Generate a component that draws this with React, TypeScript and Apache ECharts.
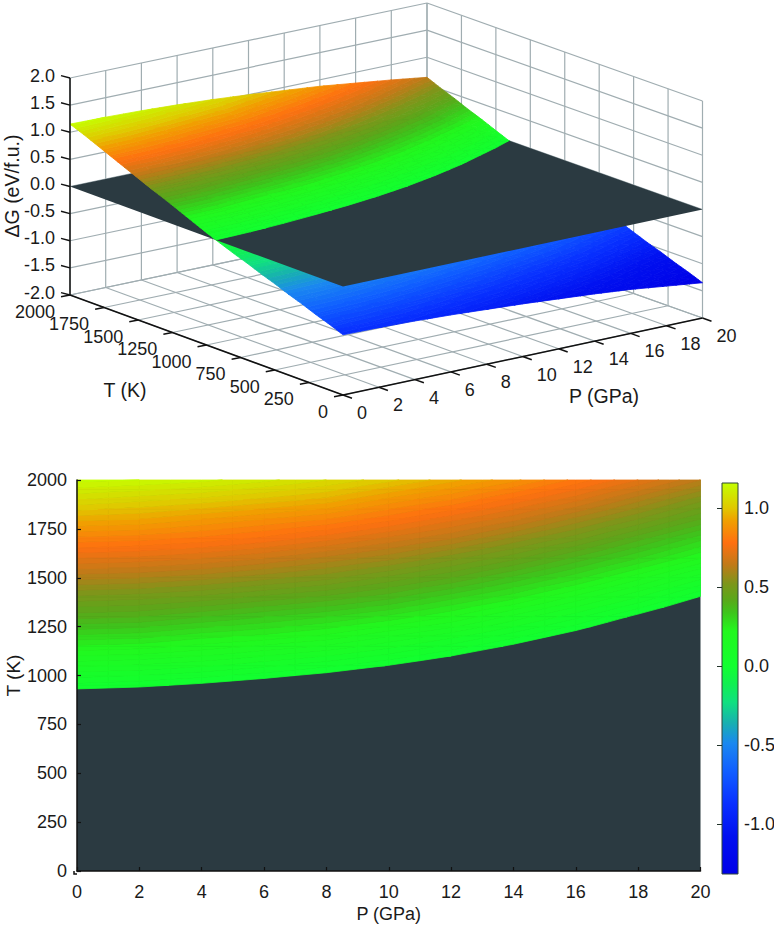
import { useEffect, useRef } from 'react';
import * as echarts from 'echarts';

// ticks shared by both panels
const pressureTicks = [0, 2, 4, 6, 8, 10, 12, 14, 16, 18, 20];
const temperatureTicks = [0, 250, 500, 750, 1000, 1250, 1500, 1750, 2000];
const gibbsTicks = [-2, -1.5, -1, -0.5, 0, 0.5, 1, 1.5, 2];
const colorbarTicks = [-1, -0.5, 0, 0.5, 1];

// table axes of the dG surface
const tablePressure = [0, 2, 4, 6, 8, 10, 12, 14, 16, 18, 20];
const tableTemperature = [
  0, 100, 200, 300, 400, 500, 600, 700, 800, 900, 1000,
  1100, 1200, 1300, 1400, 1500, 1600, 1700, 1800, 1900, 2000,
];

// dG (eV/f.u.), one list per pressure, T going up
const deltaG = [
  [-0.89, -0.79, -0.70, -0.60, -0.51, -0.41, -0.32, -0.22, -0.13, -0.032, 0.07, 0.18, 0.29, 0.40, 0.50, 0.61, 0.72, 0.83, 0.94, 1.05, 1.15],
  [-0.90, -0.80, -0.71, -0.61, -0.52, -0.42, -0.33, -0.23, -0.14, -0.042, 0.06, 0.17, 0.28, 0.39, 0.49, 0.60, 0.71, 0.82, 0.93, 1.03, 1.14],
  [-0.92, -0.82, -0.73, -0.63, -0.54, -0.44, -0.35, -0.25, -0.16, -0.06, 0.04, 0.15, 0.25, 0.36, 0.47, 0.58, 0.69, 0.80, 0.90, 1.01, 1.12],
  [-0.95, -0.85, -0.76, -0.66, -0.57, -0.47, -0.37, -0.28, -0.18, -0.085, 0.015, 0.12, 0.23, 0.33, 0.44, 0.55, 0.66, 0.77, 0.87, 0.98, 1.09],
  [-0.99, -0.89, -0.79, -0.70, -0.60, -0.50, -0.41, -0.31, -0.21, -0.11, -0.015, 0.09, 0.20, 0.30, 0.41, 0.52, 0.62, 0.73, 0.84, 0.95, 1.05],
  [-1.03, -0.93, -0.83, -0.74, -0.64, -0.54, -0.44, -0.35, -0.25, -0.15, -0.055, 0.05, 0.15, 0.26, 0.37, 0.47, 0.58, 0.68, 0.79, 0.89, 1.00],
  [-1.08, -0.98, -0.88, -0.79, -0.69, -0.59, -0.49, -0.39, -0.29, -0.20, -0.10, 0.00, 0.10, 0.21, 0.31, 0.42, 0.52, 0.63, 0.73, 0.84, 0.94],
  [-1.13, -1.03, -0.94, -0.84, -0.74, -0.65, -0.55, -0.45, -0.35, -0.26, -0.16, -0.06, 0.04, 0.14, 0.25, 0.35, 0.46, 0.56, 0.67, 0.77, 0.88],
  [-1.19, -1.09, -1.00, -0.90, -0.80, -0.71, -0.61, -0.51, -0.42, -0.32, -0.23, -0.13, -0.03, 0.07, 0.17, 0.28, 0.38, 0.49, 0.59, 0.70, 0.80],
  [-1.27, -1.17, -1.08, -0.98, -0.88, -0.79, -0.69, -0.59, -0.50, -0.40, -0.30, -0.21, -0.11, -0.015, 0.09, 0.19, 0.30, 0.40, 0.51, 0.61, 0.72],
  [-1.35, -1.25, -1.16, -1.06, -0.97, -0.87, -0.77, -0.68, -0.58, -0.49, -0.39, -0.29, -0.20, -0.10, -0.005, 0.10, 0.21, 0.31, 0.42, 0.52, 0.63],
];

// colour scale
const scaleMin = -1.316;
const scaleMax = 1.158;
const scaleValues = [-1.316, -1.08, -0.87, -0.66, -0.49, -0.36, -0.23, -0.11, 0, 0.22, 0.34, 0.42, 0.52, 0.64, 0.78, 0.92, 1.0, 1.158];
const scaleColors = [
  '#0000e8', '#0010f0', '#0830ff', '#1060ff', '#1a88f0', '#18b0b0', '#10e080', '#10f050',
  '#12ff30', '#22f81e', '#3ec41c', '#5aa81a', '#7c961a', '#c07a18', '#ff7010', '#f0a000', '#e0c800', '#c4ff00',
];

const DARK = '#2b3a41';
const INK = '#1a1a1a';
const WALL = '#a0adb1';
const FONT = '"Liberation Sans", Arial, sans-serif';
const SUB_P = 2;
const SUB_T = 2;
const BAND = 0.03;

function hexToRgb(hex: string) {
  return [1, 3, 5].map((i) => parseInt(hex.slice(i, i + 2), 16));
}

function colorOf(v: number) {
  let k = 0;
  while (k < scaleValues.length - 2 && v > scaleValues[k + 1]) k++;
  const f = Math.max(0, Math.min(1, (v - scaleValues[k]) / (scaleValues[k + 1] - scaleValues[k])));
  const a = hexToRgb(scaleColors[k]);
  const b = hexToRgb(scaleColors[k + 1]);
  return `rgb(${a.map((c, i) => Math.round(c + (b[i] - c) * f)).join(',')})`;
}

// box corners of the 3d panel, in the hidden grid's units
const cornerFront = [343, 395];
const cornerRight = [702.5, 318];
const cornerLeft = [70, 295];
const cornerBack = [427, 220];
const boxHeight = 217;

function project(p: number, t: number, g: number) {
  const a = p / 20;
  const b = t / 2000;
  const mix = (i: number) =>
    (1 - a) * (1 - b) * cornerFront[i] + a * (1 - b) * cornerRight[i] +
    (1 - a) * b * cornerLeft[i] + a * b * cornerBack[i];
  return [mix(0), mix(1) - ((g + 2) / 4) * boxHeight];
}

type Corner = { p: number; t: number; g: number };

// keep the part of a small quad above (sign 1) or below (sign -1) a level
function clipLevel(poly: Corner[], level: number, sign: number) {
  const out: Corner[] = [];
  poly.forEach((cur, i) => {
    const next = poly[(i + 1) % poly.length];
    const inCur = (cur.g - level) * sign >= 0;
    const inNext = (next.g - level) * sign >= 0;
    if (inCur) out.push(cur);
    if (inCur !== inNext) {
      const f = (cur.g - level) / (cur.g - next.g);
      out.push({ p: cur.p + (next.p - cur.p) * f, t: cur.t + (next.t - cur.t) * f, g: level });
    }
  });
  return out;
}

function subQuads(i: number, j: number) {
  const p0 = tablePressure[i];
  const p1 = tablePressure[i + 1];
  const t0 = tableTemperature[j];
  const t1 = tableTemperature[j + 1];
  const at = (fa: number, fb: number): Corner => ({
    p: p0 + (p1 - p0) * fa,
    t: t0 + (t1 - t0) * fb,
    g:
      (1 - fa) * (1 - fb) * deltaG[i][j] + fa * (1 - fb) * deltaG[i + 1][j] +
      (1 - fa) * fb * deltaG[i][j + 1] + fa * fb * deltaG[i + 1][j + 1],
  });
  const quads: Corner[][] = [];
  for (let b = SUB_T - 1; b >= 0; b--) {
    for (let a = 0; a < SUB_P; a++) {
      quads.push([
        at(a / SUB_P, b / SUB_T),
        at((a + 1) / SUB_P, b / SUB_T),
        at((a + 1) / SUB_P, (b + 1) / SUB_T),
        at(a / SUB_P, (b + 1) / SUB_T),
      ]);
    }
  }
  return quads;
}

// slice a quad into iso-bands, like the filled contours of the original
function bandsOf(quad: Corner[]) {
  const values = quad.map((c) => c.g);
  const first = Math.floor(Math.min(...values) / BAND);
  const last = Math.ceil(Math.max(...values) / BAND);
  const parts: { low: number; poly: Corner[] }[] = [];
  for (let k = first; k < last; k++) {
    const low = k * BAND;
    const poly = clipLevel(clipLevel(quad, low, 1), low + BAND, -1);
    if (poly.length >= 3) parts.push({ low, poly });
  }
  return parts;
}

const cells: number[][] = [];
for (let j = tableTemperature.length - 2; j >= 0; j--) {
  for (let i = 0; i < tablePressure.length - 1; i++) cells.push([i, j]);
}

function shape(points: number[][], fill: string) {
  return {
    type: 'polygon',
    shape: { points },
    style: { fill, stroke: fill, lineWidth: 0.8 },
  };
}

function surface3d(sign: number) {
  return (params: any, api: any) => {
    const [i, j] = cells[params.dataIndex];
    const children: any[] = [];
    subQuads(i, j).forEach((quad) => {
      bandsOf(quad).forEach(({ low, poly }) => {
        if ((low >= -1e-9 ? 1 : -1) !== sign) return;
        const points = poly.map((c) => api.coord(project(c.p, c.t, c.g)));
        children.push(shape(points, colorOf(low + BAND / 2)));
      });
    });
    return { type: 'group', children };
  };
}

function renderPlane(_: any, api: any) {
  const points = [
    project(0, 0, 0),
    project(20, 0, 0),
    project(20, 2000, 0),
    project(0, 2000, 0),
  ].map((c) => api.coord(c));
  return { type: 'polygon', shape: { points }, style: { fill: DARK } };
}

function renderWalls(_: any, api: any) {
  const line = (a: number[], b: number[]) => {
    const s = api.coord(a);
    const e = api.coord(b);
    return {
      type: 'line',
      shape: { x1: s[0], y1: s[1], x2: e[0], y2: e[1] },
      style: { stroke: WALL, lineWidth: 1.2 },
    };
  };
  const children: any[] = [];
  pressureTicks.forEach((p) => {
    children.push(line(project(p, 2000, -2), project(p, 2000, 2)));
    children.push(line(project(p, 0, -2), project(p, 2000, -2)));
  });
  temperatureTicks.forEach((t) => {
    children.push(line(project(20, t, -2), project(20, t, 2)));
    children.push(line(project(0, t, -2), project(20, t, -2)));
  });
  gibbsTicks.forEach((g) => {
    children.push(line(project(0, 2000, g), project(20, 2000, g)));
    children.push(line(project(20, 0, g), project(20, 2000, g)));
  });
  return { type: 'group', children };
}

function renderBoxAxes(_: any, api: any) {
  const children: any[] = [];
  const line = (a: number[], b: number[]) => {
    const s = api.coord(a);
    const e = api.coord(b);
    children.push({
      type: 'line',
      shape: { x1: s[0], y1: s[1], x2: e[0], y2: e[1] },
      style: { stroke: '#111', lineWidth: 1.5 },
    });
  };
  const label = (text: string, at: number[], textAlign: string, fontSize = 18, rotation = 0) => {
    const c = api.coord(at);
    children.push({
      type: 'text',
      x: c[0],
      y: c[1],
      rotation,
      style: {
        text,
        x: 0,
        y: 0,
        textAlign,
        textVerticalAlign: 'middle',
        fontSize,
        fontFamily: FONT,
        fill: INK,
      },
    });
  };
  line(project(0, 2000, -2), project(0, 2000, 2));
  line(project(0, 0, -2), project(0, 2000, -2));
  line(project(0, 0, -2), project(20, 0, -2));

  gibbsTicks.forEach((g) => {
    const [u, v] = project(0, 2000, g);
    line([u, v], [u - 9, v - 2.4]);
    label(g.toFixed(1), [u - 15, v - 2.5], 'right');
  });
  temperatureTicks.forEach((t) => {
    const [u, v] = project(0, t, -2);
    line([u, v], [u - 9, v + 1.8]);
    label(String(t), [u - 15, v + 16.5], 'right');
  });
  pressureTicks.forEach((p) => {
    const [u, v] = project(p, 0, -2);
    line([u, v], [u + 9, v + 3.2]);
    label(String(p), [u + 14, v + 18], 'left');
  });

  label('\u0394G (eV/f.u.)', [12, 186], 'center', 19.5, Math.PI / 2);
  label('T (K)', [125, 390], 'center', 19.5);
  label('P (GPa)', [604, 396], 'center', 19.5);
  return { type: 'group', children };
}

function renderMapBase(_: any, api: any) {
  const lo = api.coord([0, 0]);
  const hi = api.coord([20, 2000]);
  return {
    type: 'rect',
    shape: { x: lo[0], y: hi[1], width: hi[0] - lo[0], height: lo[1] - hi[1] },
    style: { fill: DARK },
  };
}

function renderMapCell(params: any, api: any) {
  const [i, j] = cells[params.dataIndex];
  const children: any[] = [];
  subQuads(i, j).forEach((quad) => {
    bandsOf(quad).forEach(({ low, poly }) => {
      if (low < -1e-9) return;
      children.push(shape(poly.map((c) => api.coord([c.p, c.t])), colorOf(low + BAND / 2)));
    });
  });
  return { type: 'group', children };
}

function renderColorbar(_: any, api: any) {
  const lo = api.coord([0, scaleMin]);
  const hi = api.coord([1, scaleMax]);
  const colorStops = scaleValues.map((v, k) => ({
    offset: (scaleMax - v) / (scaleMax - scaleMin),
    color: scaleColors[k],
  })).reverse();
  return {
    type: 'rect',
    shape: { x: lo[0], y: hi[1], width: hi[0] - lo[0], height: lo[1] - hi[1] },
    style: {
      fill: new echarts.graphic.LinearGradient(0, 0, 0, 1, colorStops),
      stroke: '#2e4438',
      lineWidth: 1,
    },
  };
}

export default function App() {
  const chartRef = useRef<HTMLDivElement>(null);

  useEffect(() => {
    if (!chartRef.current) return;
    const chart = echarts.init(chartRef.current, undefined, { renderer: 'svg' });

    const axisText = { color: INK, fontSize: 18, fontFamily: FONT };
    const plainNumber = (v: number) => String(v);
    const option: any = {
      animation: false,
      backgroundColor: '#fff',
      grid: [
        { left: 0, top: 0, width: 774, height: 440, outerBoundsMode: 'none' },
        { left: 77, top: 480, width: 623.5, height: 391, outerBoundsMode: 'none' },
        { left: 722, top: 483, width: 16, height: 391, outerBoundsMode: 'none' },
      ],
      xAxis: [
        { gridIndex: 0, type: 'value', min: 0, max: 774, show: false },
        {
          gridIndex: 1,
          type: 'value',
          min: 0,
          max: 20,
          interval: 2,
          offset: 3,
          z: 5,
          name: 'P (GPa)',
          nameLocation: 'middle',
          nameGap: 31,
          nameTextStyle: axisText,
          splitLine: { show: false },
          axisLine: { lineStyle: { color: '#111', width: 1.5 } },
          axisTick: { inside: true, length: 4, lineStyle: { color: '#111', width: 1.2 } },
          axisLabel: { ...axisText, margin: 9, formatter: plainNumber },
        },
        { gridIndex: 2, type: 'value', min: 0, max: 1, show: false },
      ],
      yAxis: [
        { gridIndex: 0, type: 'value', min: 0, max: 440, inverse: true, show: false },
        {
          gridIndex: 1,
          type: 'value',
          min: 0,
          max: 2000,
          interval: 250,
          offset: 3,
          z: 5,
          name: 'T (K)',
          nameLocation: 'middle',
          nameGap: 51,
          nameMoveOverlap: false,
          nameRotate: 90,
          nameTextStyle: { ...axisText, fontSize: 19 },
          splitLine: { show: false },
          axisLine: { lineStyle: { color: '#111', width: 1.5 } },
          axisTick: { inside: true, length: 4, lineStyle: { color: '#111', width: 1.2 } },
          axisLabel: { ...axisText, margin: 7, formatter: plainNumber },
        },
        {
          gridIndex: 2,
          type: 'value',
          position: 'right',
          min: scaleMin,
          max: scaleMax,
          z: 5,
          splitLine: { show: false },
          axisLine: { show: false },
          axisTick: {
            inside: true,
            length: 5,
            customValues: colorbarTicks,
            lineStyle: { color: '#22332a', width: 1 },
          },
          axisLabel: {
            ...axisText,
            margin: 6,
            customValues: colorbarTicks,
            formatter: (v: number) => v.toFixed(1),
          },
        },
      ],
      graphic: [
        {
          type: 'polyline',
          shape: { points: [[74, 871], [74, 874], [77, 874]] },
          style: { stroke: '#111', lineWidth: 1.5, fill: 'none' },
        },
      ],
      series: [
        { type: 'custom', name: 'walls', xAxisIndex: 0, yAxisIndex: 0, silent: true, data: [[0]], renderItem: renderWalls },
        { type: 'custom', name: 'below', xAxisIndex: 0, yAxisIndex: 0, silent: true, data: cells, renderItem: surface3d(-1) },
        { type: 'custom', name: 'plane', xAxisIndex: 0, yAxisIndex: 0, silent: true, data: [[0]], renderItem: renderPlane },
        { type: 'custom', name: 'above', xAxisIndex: 0, yAxisIndex: 0, silent: true, data: cells, renderItem: surface3d(1) },
        { type: 'custom', name: 'box', xAxisIndex: 0, yAxisIndex: 0, silent: true, data: [[0]], renderItem: renderBoxAxes },
        { type: 'custom', name: 'mapBase', xAxisIndex: 1, yAxisIndex: 1, silent: true, data: [[0]], renderItem: renderMapBase },
        { type: 'custom', name: 'map', xAxisIndex: 1, yAxisIndex: 1, silent: true, data: cells, renderItem: renderMapCell },
        { type: 'custom', name: 'colorbar', xAxisIndex: 2, yAxisIndex: 2, silent: true, data: [[0]], renderItem: renderColorbar },
      ],
    };

    chart.setOption(option, true);
    return () => chart.dispose();
  }, []);

  return (
    <div
      ref={chartRef}
      style={{ position: 'absolute', left: 0, top: 0, width: 774, height: 927 }}
    />
  );
}
